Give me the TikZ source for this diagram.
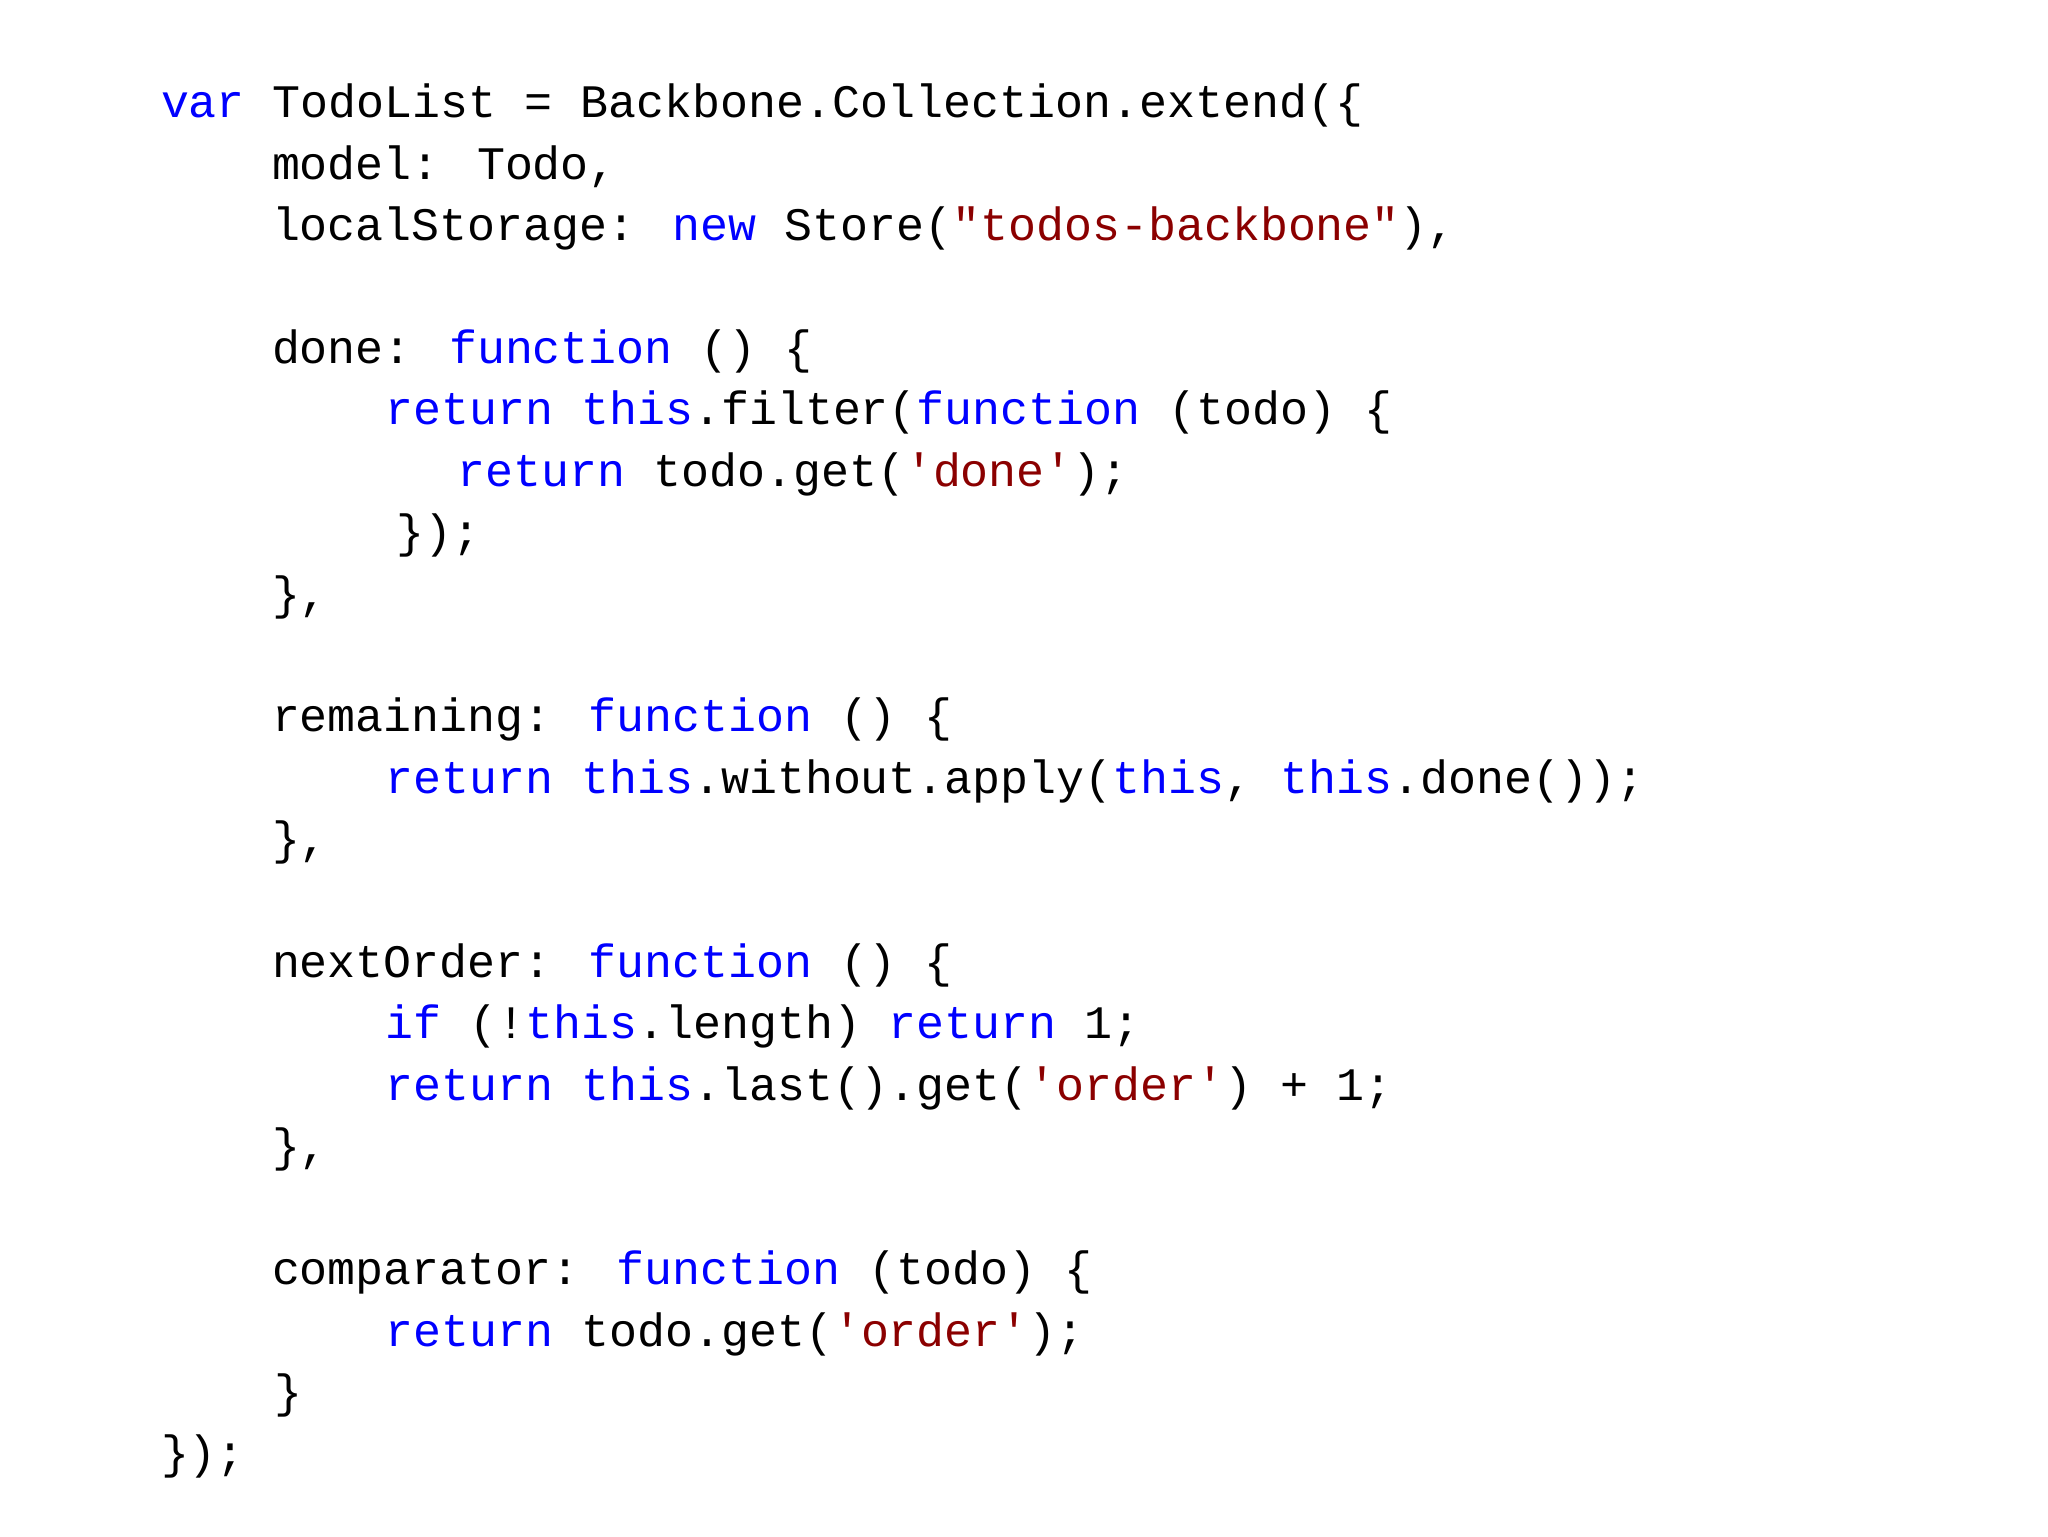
\documentclass[tikz,border=0pt]{standalone}
\usepackage{fontspec}
\newfontfamily\codefont{Liberation Mono}
\definecolor{kw}{HTML}{0000FF}
\definecolor{st}{HTML}{8B0000}
\newcommand{\K}[1]{\textcolor{kw}{#1}}
\newcommand{\Sx}[1]{\textcolor{st}{#1}}
\begin{document}
\begin{tikzpicture}[x=1pt,y=1pt,cl/.style={anchor=base west,inner sep=0pt,font=\codefont\fontsize{23.3}{28}\selectfont}]
\useasboundingbox[fill=white] (0,0) rectangle (1024,768);
\def\Y#1{709-30.7*#1}
\node[cl] (l0) at (80.3,{\Y{0}}) {\K{var} TodoList = Backbone.Collection.extend(\{};
\node[cl] (l1) at (135.8,{\Y{1}}) {model: Todo,};
\node[cl] (l2) at (135.8,{\Y{2}}) {localStorage: \K{new} Store(\Sx{"todos-backbone"}),};
\node[cl] (l4) at (135.8,{\Y{4}}) {done: \K{function} () \{};
\node[cl] (l5) at (192.6,{\Y{5}}) {\K{return} \K{this}.filter(\K{function} (todo) \{};
\node[cl] (l6) at (228.6,{\Y{6}}) {\K{return} todo.get(\Sx{'done'});};
\node[cl] (l7) at (197.9,{\Y{7}}) {\});};
\node[cl] (l8) at (135.8,{\Y{8}}) {\},};
\node[cl] (l10) at (135.8,{\Y{10}}) {remaining: \K{function} () \{};
\node[cl] (l11) at (192.6,{\Y{11}}) {\K{return} \K{this}.without.apply(\K{this}, \K{this}.done());};
\node[cl] (l12) at (135.8,{\Y{12}}) {\},};
\node[cl] (l14) at (135.8,{\Y{14}}) {nextOrder: \K{function} () \{};
\node[cl] (l15) at (192.6,{\Y{15}}) {\K{if} (!\K{this}.length) \K{return} 1;};
\node[cl] (l16) at (192.6,{\Y{16}}) {\K{return} \K{this}.last().get(\Sx{'order'}) + 1;};
\node[cl] (l17) at (135.8,{\Y{17}}) {\},};
\node[cl] (l19) at (135.8,{\Y{19}}) {comparator: \K{function} (todo) \{};
\node[cl] (l20) at (192.6,{\Y{20}}) {\K{return} todo.get(\Sx{'order'});};
\node[cl] (l21) at (137,{\Y{21}}) {\}};
\node[cl] (l22) at (80.3,{\Y{22}}) {\});};
\end{tikzpicture}
\end{document}
